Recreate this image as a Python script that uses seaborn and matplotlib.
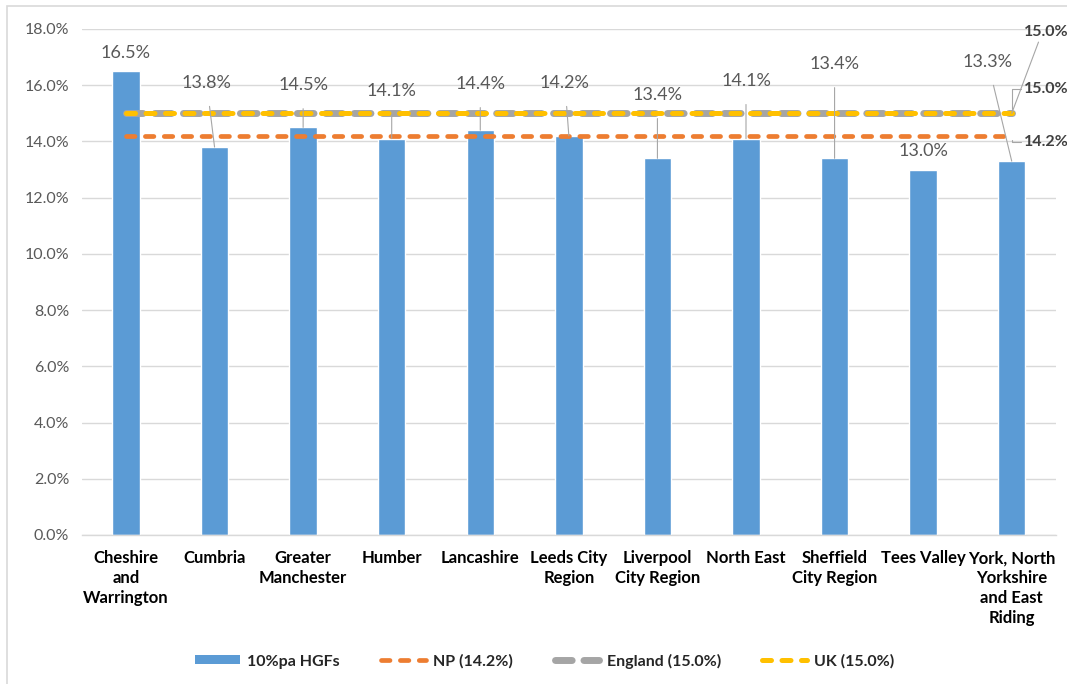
import numpy as np
import pandas as pd
import matplotlib
matplotlib.use("Agg")
import matplotlib.pyplot as plt
from matplotlib.patches import Rectangle, Patch
from matplotlib.lines import Line2D
import seaborn as sns

# ---- data ----
regions = [
    "Cheshire\nand\nWarrington", "Cumbria", "Greater\nManchester", "Humber",
    "Lancashire", "Leeds City\nRegion", "Liverpool\nCity Region", "North East",
    "Sheffield\nCity Region", "Tees Valley", "York, North\nYorkshire\nand East\nRiding",
]
hgf_share = [16.5, 13.8, 14.5, 14.1, 14.4, 14.2, 13.4, 14.1, 13.4, 13.0, 13.3]
np_rate = 14.2
england_rate = 15.0
uk_rate = 15.0
y_ticks = [0, 2, 4, 6, 8, 10, 12, 14, 16, 18]

# ---- label placement (data-label layout, in axis units) ----
label_y = [None, 16.09, 16.01, 15.80, 16.05, 16.09, 15.66, 16.16, 16.76, None, 16.83]
label_dx = [0, -0.09, 0, 0, 0, -0.045, 0, 0, 0, 0, -0.27]

BLUE = "#5B9BD5"
ORANGE = "#ED7D31"
GREY = "#A5A5A5"
GOLD = "#FFC000"
GRID = "#D9D9D9"
TXT = "#595959"

# line styles: (width, dash pattern)
NP_STYLE = (3.4, (1.8, 2.2))
ENG_STYLE = (5.0, (2.4, 1.7))
UK_STYLE = (3.6, (1.8, 2.1))

sns.set_theme(style="white")
plt.rcParams["font.family"] = ["Lato", "DejaVu Sans"]

W, H = 1067, 684
fig = plt.figure(figsize=(W / 100, H / 100), dpi=100)
ax = fig.add_axes([81.7 / W, (H - 535) / H, (1056 - 81.7) / W, (535 - 29) / H])

n = len(regions)
df = pd.DataFrame({"region": regions, "share": hgf_share})
sns.barplot(data=df, x="region", y="share", color=BLUE, width=0.31,
            saturation=1, ax=ax, zorder=2)

xs = np.arange(n)
for val, col, (lw, dash), z in [(np_rate, ORANGE, NP_STYLE, 3),
                                (england_rate, GREY, ENG_STYLE, 4),
                                (uk_rate, GOLD, UK_STYLE, 5)]:
    sns.lineplot(x=xs, y=[val] * n, ax=ax, color=col, lw=lw, zorder=z)
    ax.lines[-1].set(dashes=dash, dash_capstyle="round")

ax.set_xlim(-0.5, n - 0.5)
ax.set_ylim(0, 18)
ax.set_yticks(y_ticks)
ax.set_yticklabels([f"{t:.1f}%" for t in y_ticks], color=TXT, fontsize=11.5)
ax.set_xlabel("")
ax.set_ylabel("")
ax.tick_params(axis="y", length=0, pad=9)
ax.tick_params(axis="x", length=0, pad=11)
for lab in ax.get_xticklabels():
    lab.set_fontweight("bold")
    lab.set_fontsize(12)
    lab.set_color("black")
    lab.set_linespacing(1.3)
ax.yaxis.grid(True, color=GRID, lw=1)
ax.set_axisbelow(True)
for s in ["top", "right", "left"]:
    ax.spines[s].set_visible(False)
ax.spines["bottom"].set_color(GRID)
ax.spines["bottom"].set_linewidth(1)

# data labels
for i, v in enumerate(hgf_share):
    if label_y[i] is None:
        ax.annotate(f"{v:.1f}%", (i, v), xytext=(0, 13), textcoords="offset points",
                    ha="center", va="center", fontsize=13, color=TXT, zorder=6)
    else:
        tx = i + label_dx[i]
        ax.annotate(f"{v:.1f}%", xy=(i, v), xytext=(tx, label_y[i]),
                    ha="center", va="center", fontsize=13, color=TXT, zorder=6,
                    arrowprops=dict(arrowstyle="-", color="#A6A6A6", lw=0.8,
                                    shrinkA=9, shrinkB=0))

# series end labels
end_kw = dict(ha="left", va="center", fontsize=11.5, fontweight="bold",
              color="#404040", annotation_clip=False, zorder=6)
ax.annotate("15.0%", xy=(n - 1, uk_rate), xytext=(10.14, 17.9),
            arrowprops=dict(arrowstyle="-", color="#A6A6A6", lw=0.8,
                            shrinkA=0, shrinkB=0, relpos=(0.35, 0.0)), **end_kw)
ax.annotate("15.0%", xy=(n - 1, england_rate), xytext=(10.14, 15.87),
            arrowprops=dict(arrowstyle="-", color="#A6A6A6", lw=0.8, shrinkA=0,
                            shrinkB=3, connectionstyle="angle,angleA=0,angleB=90,rad=0",
                            relpos=(0.0, 0.5)), **end_kw)
ax.annotate("14.2%", xy=(n - 1, np_rate), xytext=(10.14, 13.99),
            arrowprops=dict(arrowstyle="-", color="#A6A6A6", lw=0.8, shrinkA=0,
                            shrinkB=3, connectionstyle="angle,angleA=0,angleB=90,rad=0",
                            relpos=(0.0, 0.5)), **end_kw)

# legend
handles = [Patch(facecolor=BLUE, edgecolor="none")]
for col, (lw, dash) in [(ORANGE, NP_STYLE), (GREY, ENG_STYLE), (GOLD, UK_STYLE)]:
    handles.append(Line2D([], [], color=col, lw=lw, dashes=dash, dash_capstyle="round"))
labels = ["10%pa HGFs", "NP (14.2%)", "England (15.0%)", "UK (15.0%)"]
fig.legend(handles, labels, loc="center", bbox_to_anchor=(545 / W, (H - 661) / H),
           ncol=4, frameon=False, handlelength=2.8, handleheight=0.5,
           handletextpad=0.45, columnspacing=2.6,
           prop={"weight": "bold", "size": 11.5, "family": ["Lato", "DejaVu Sans"]})

# chart frame
fig.patches.append(Rectangle((7 / W, -0.02), 1.05, (H - 6) / H + 0.02,
                             transform=fig.transFigure, fill=False,
                             edgecolor=GRID, lw=1.2))

fig.savefig("out.png", dpi=100, facecolor="white")
